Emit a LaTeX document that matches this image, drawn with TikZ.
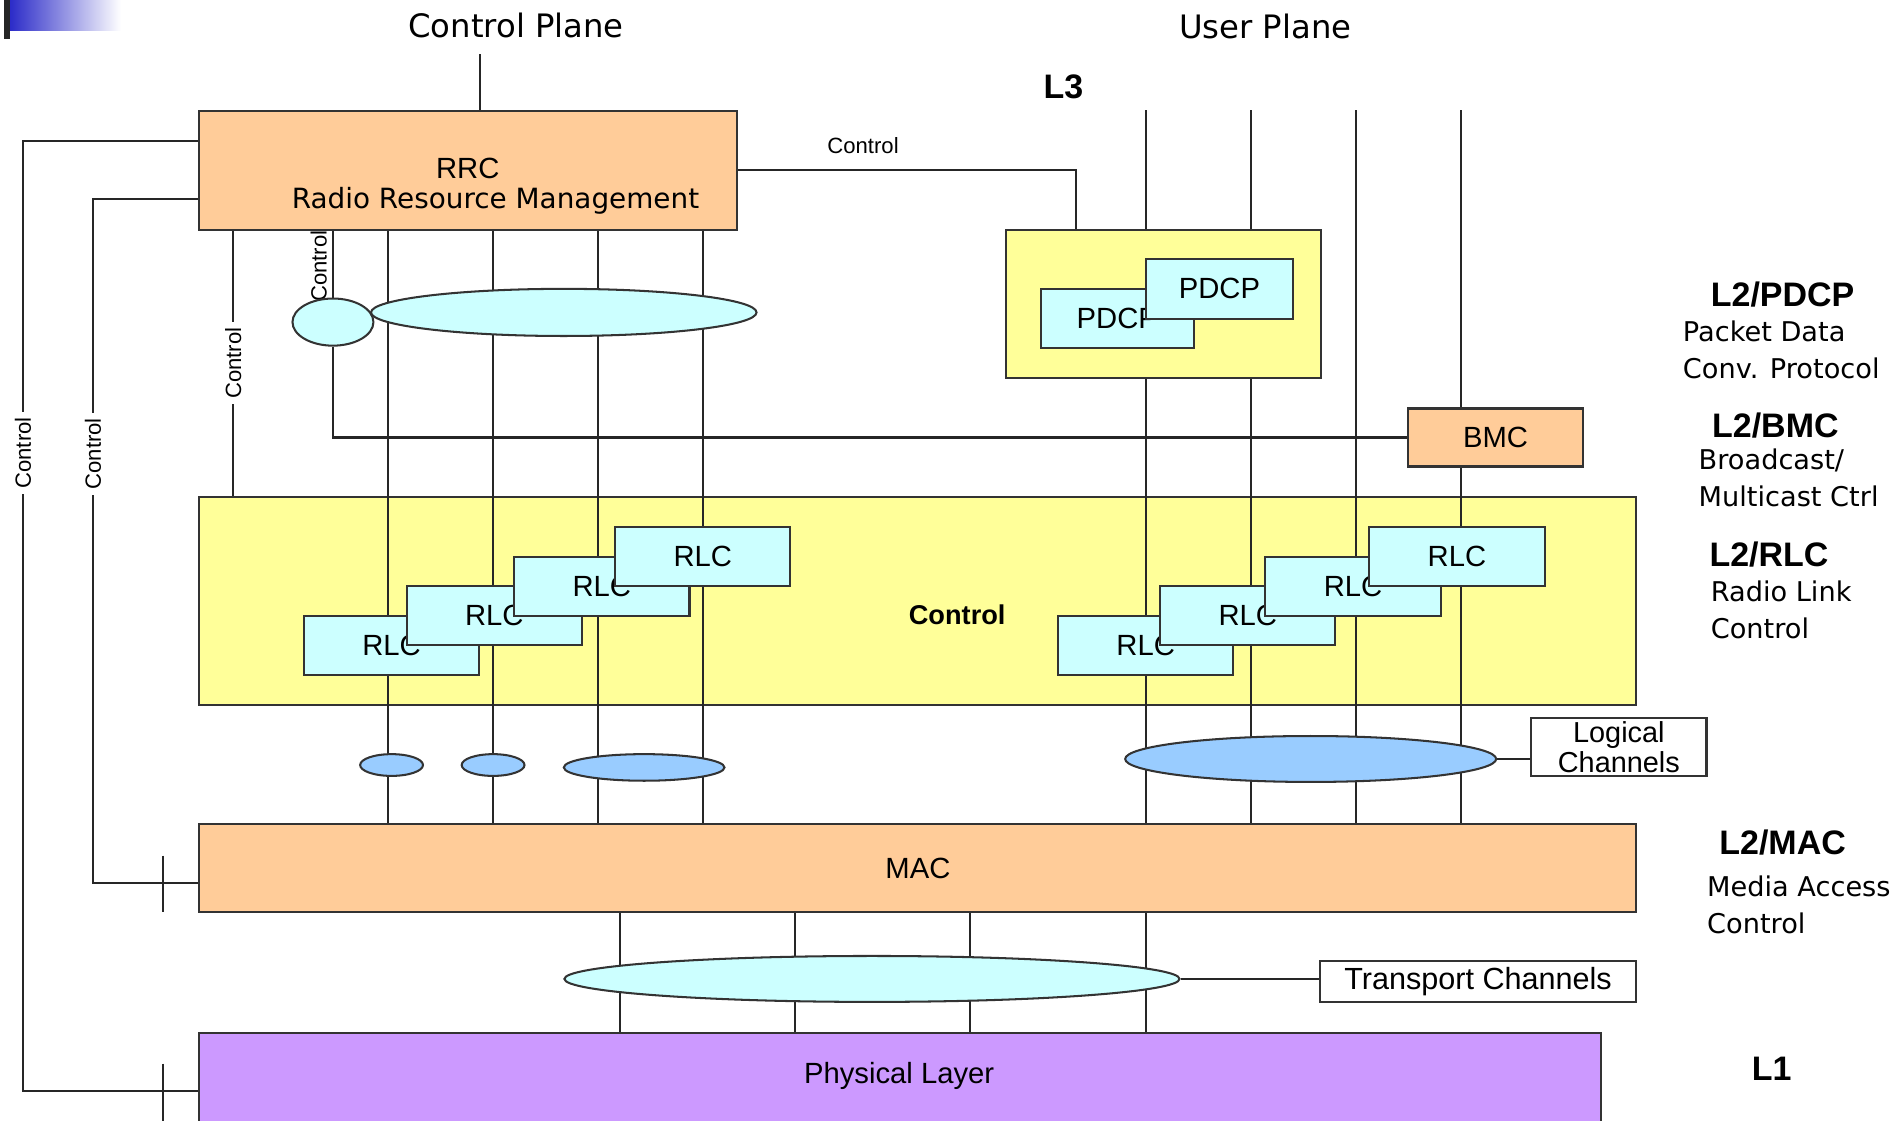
\documentclass[tikz,border=0pt]{standalone}
\usepackage{fontspec}
\setmainfont{Liberation Sans}
\newfontfamily\tahoma{DejaVu Sans}
\usetikzlibrary{shapes.geometric,calc}
\definecolor{peach}{HTML}{FFCC99}
\definecolor{lemon}{HTML}{FFFF99}
\definecolor{ice}{HTML}{CCFFFF}
\definecolor{sky}{HTML}{99CCFF}
\definecolor{lilac}{HTML}{CC99FF}
\definecolor{edge}{HTML}{333333}
\definecolor{gradblue}{HTML}{2B2BC8}
\pgfdeclarelayer{back}
\pgfdeclarelayer{wires}
\pgfsetlayers{back,wires,main}
\tikzset{
  wh/.style 2 args={minimum width=#1*0.125mm,minimum height=#2*0.125mm},
  lbl/.style={font=\fontsize{8.6}{10}\selectfont},
  blk/.style={lbl,draw=edge,line width=0.6pt,inner sep=0pt},
  oval/.style={ellipse,draw=edge,line width=0.6pt,inner sep=0pt},
  head/.style={font=\tahoma\fontsize{9.5}{11}\selectfont},
  tag/.style={font=\bfseries\fontsize{10}{12}\selectfont},
  side/.style={font=\tahoma\fontsize{8}{11}\selectfont,align=left,anchor=west,inner sep=0pt},
  ctl/.style={font=\fontsize{6.5}{7}\selectfont,inner sep=1.5pt},
  wire/.style={draw=black!85,line width=0.6pt}
}

\begin{document}
\begin{tikzpicture}[x=0.125mm,y=-0.125mm]
  \useasboundingbox (0,0) rectangle (1568,927);
  \clip (0,0) rectangle (1568,927);

  % slide corner mark
  \shade[left color=gradblue,right color=white] (8,0) rectangle (100,25);
  \fill[black!85] (3,0) rectangle (8,32);

  % headings
  \node[head] (cplane) at (427,21) {Control Plane};
  \node[head] (uplane) at (1047,22) {User Plane};
  \node[tag] (lthree) at (880,72) {L3};

  % RLC area, the channel lines run over it
  \begin{pgfonlayer}{back}
    \node[blk,fill=lemon,wh={1189}{172}] (rlcarea) at (759.5,497) {};
  \end{pgfonlayer}
  \node[font=\bfseries\fontsize{8}{10}\selectfont] (rlcctl) at (792,509) {Control};

  % blocks
  \node[blk,fill=peach,wh={445}{98}] (rrc) at (387.5,141) {};
  \node[lbl] (rrcname) at (387,139) {RRC};
  \node[font=\tahoma\fontsize{8.2}{10}\selectfont] (rrm) at (410,166) {Radio Resource Management};

  \node[blk,fill=lemon,wh={261}{123}] (pdcparea) at (962.5,251.5) {};
  \node[blk,fill=ice,wh={127}{49}] (pdcpa) at (924.5,263.5) {PDCP};
  \node[blk,fill=ice,wh={122}{50}] (pdcpb) at (1009,239) {PDCP};
  \node[blk,fill=peach,wh={145}{48}] (bmc) at (1237.5,362) {BMC};

  \foreach \n/\cx/\cy in {rlca/324/534,rlcb/409/509.5,rlcc/498/485.5,rlcd/581.5/460.5,
                          rlce/948/534,rlcf/1032.5/509.5,rlcg/1119.5/485.5,rlch/1205.5/460.5}
    \node[blk,fill=ice,wh={145}{49}] (\n) at (\cx,\cy) {RLC};

  % channel ovals
  \node[oval,fill=ice,wh={67}{39}] (ctlring) at (275.5,266.5) {};
  \node[oval,fill=ice,wh={319}{39}] (topring) at (466.5,258.5) {};
  \node[oval,fill=sky,wh={52}{18}] (cha) at (324,633) {};
  \node[oval,fill=sky,wh={52}{18}] (chb) at (408,633) {};
  \node[oval,fill=sky,wh={133}{22}] (chc) at (533,635) {};
  \node[oval,fill=sky,wh={307}{38}] (chd) at (1084.5,628) {};
  \node[blk,fill=white,wh={145}{48},align=center,font=\fontsize{8.5}{8.8}\selectfont] (logch) at (1339.5,618) {Logical\\Channels};

  \node[blk,fill=peach,wh={1189}{73}] (mac) at (759.5,718.5) {MAC};
  \node[oval,fill=ice,wh={509}{38}] (trring) at (721.5,810) {};
  \node[blk,fill=white,wh={262}{34},font=\fontsize{9}{10}\selectfont] (trch) at (1223,812) {Transport Channels};
  \node[blk,fill=lilac,wh={1160}{96}] (phy) at (745,903) {};
  \node[lbl] (phyname) at (744,890) {Physical Layer};

  % lines
  \begin{pgfonlayer}{wires}
    \coordinate (cpfoot) at (397,45);
    \draw[wire] (cpfoot) -- (cpfoot |- rrc.north);
    \foreach \x in {321,408,495,582}
      \draw[wire] (rrc.south -| \x,0) -- (mac.north -| \x,0);
    \foreach \x in {1035,1122,1209}
      \draw[wire] (rrc.north -| \x,0) -- (mac.north -| \x,0);
    \draw[wire] (rrc.north -| 948,0) -- (phy.north -| 948,0);
    \foreach \x in {513,658,803}
      \draw[wire] (mac.south -| \x,0) -- (phy.north -| \x,0);

    % control paths
    \draw[wire] (rrc.east) -| node[ctl,pos=0.185,above=3pt] {Control} (pdcparea.north -| 890,0);
    \draw[wire] (rrc.south -| 193,0) -- node[ctl,fill=white,rotate=90] {Control} (rlcarea.north -| 193,0);
    \draw[wire] (rrc.south -| ctlring.north) -- node[ctl,rotate=90,anchor=south,pos=0.53] {Control} (ctlring.north);
    \draw[wire] (ctlring.south) |- (bmc.west);

    \coordinate (outerbend) at (19,903);
    \coordinate (innerbend) at (77,731);
    \draw[wire] ([yshift=3mm]rrc.west) -| node[ctl,fill=white,rotate=90,pos=0.664] {Control} (outerbend) -- (phy.west |- outerbend);
    \draw[wire] ([yshift=-3mm]rrc.west) -| node[ctl,fill=white,rotate=90,pos=0.686] {Control} (innerbend) -- (mac.west |- innerbend);
    \coordinate (tka) at (135,708);
    \coordinate (tkb) at (135,755);
    \coordinate (tkc) at (135,880);
    \coordinate (tkd) at (135,930);
    \draw[wire] (tka) -- (tkb);
    \draw[wire] (tkc) -- (tkd);

    % channel legends
    \draw[wire] (chd.east) -- (chd.east -| logch.west);
    \draw[wire] (trring.east) -- (trring.east -| trch.west);
  \end{pgfonlayer}

  % layer names
  \node[tag] (tpdcp) at (1475,244) {L2/PDCP};
  \node[side] (dpdcp) at (1392,289.5) {Packet Data\\Conv. Protocol};
  \node[tag] (tbmc) at (1469,352) {L2/BMC};
  \node[side] (dbmc) at (1405,395.5) {Broadcast/\\Multicast Ctrl};
  \node[tag,anchor=west,inner sep=0pt] (trlc) at (1414,459) {L2/RLC};
  \node[side] (drlc) at (1415,504.5) {Radio Link\\Control};
  \node[tag] (tmac) at (1475,697) {L2/MAC};
  \node[side] (dmac) at (1412,748.5) {Media Access\\Control};
  \node[tag] (tphy) at (1466,884) {L1};
\end{tikzpicture}
\end{document}
